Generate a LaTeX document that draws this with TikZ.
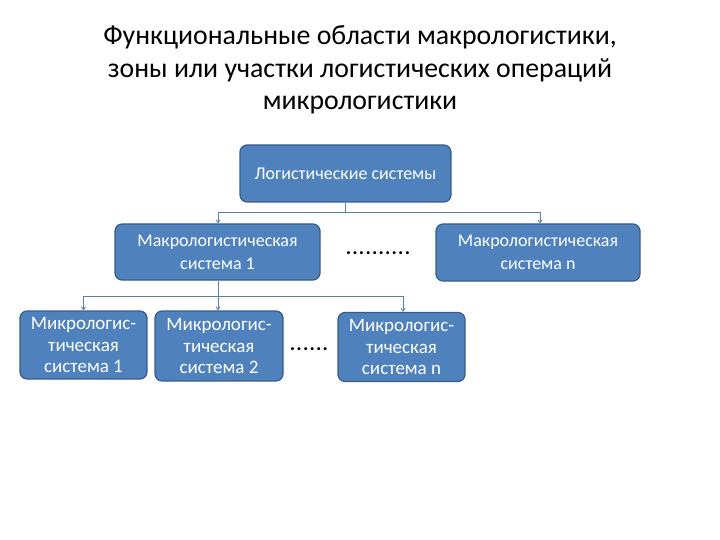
\documentclass[tikz,border=0pt]{standalone}
\usepackage{fontspec}
\setmainfont{Carlito}
\usetikzlibrary{arrows.meta}
\definecolor{boxfill}{HTML}{4F81BD}
\definecolor{boxline}{HTML}{385D8A}
\definecolor{conn}{HTML}{5A7FA8}
\tikzset{
  x=1pt,y=-1pt,
  sysbox/.style={draw=boxline,line width=1.2pt,fill=boxfill,rounded corners=7pt,
    text=white,align=center,inner sep=0pt,font=\fontsize{18}{23}\selectfont},
  microbox/.style={sysbox,font=\fontsize{19}{21.5}\selectfont},
  conline/.style={draw=conn,line width=0.8pt},
  conarrow/.style={conline,-{Straight Barb[length=3pt,width=4pt]}},
  dots/.style={font=\fontsize{20}{22}\selectfont\bfseries\addfontfeature{LetterSpace=6},inner sep=0pt}
}
\begin{document}
\begin{tikzpicture}
\useasboundingbox (0,0) rectangle (720,540);
\node[align=center,font=\fontsize{27.8}{32.5}\selectfont,inner sep=0pt] (title) at (360,70)
  {Функциональные области макрологистики,\\зоны или участки логистических операций\\микрологистики};
\node[sysbox,minimum width=211pt,minimum height=57pt] (top) at (345.5,173.5) {Логистические системы};
\node[sysbox,minimum width=205pt,minimum height=56pt] (m1) at (217.5,252) {Макрологистическая\\система 1};
\node[sysbox,minimum width=204pt,minimum height=57pt] (mn) at (538,252.5) {Макрологистическая\\система n};
\node[dots] (d1) at (378,253) {..........};
\node[microbox,minimum width=127pt,minimum height=68pt] (u1) at (83.5,345) {Микрологис-\\тическая\\система 1};
\node[microbox,minimum width=128pt,minimum height=70pt] (u2) at (219,346) {Микрологис-\\тическая\\система 2};
\node[microbox,minimum width=127pt,minimum height=69pt] (un) at (401.5,347) {Микрологис-\\тическая\\система n};
\node[dots] (d2) at (309,349) {......};
\coordinate (j1) at (345.5,212);
\coordinate (j1l) at (218,212);
\coordinate (j1r) at (540,212);
\draw[conline] (top.south) -- (j1);
\draw[conline] (j1l) -- (j1r);
\draw[conarrow] (j1l) -- (j1l |- m1.north);
\draw[conarrow] (j1r) -- (j1r |- mn.north);
\coordinate (j2) at (218,296);
\coordinate (j2l) at (83.5,296);
\coordinate (j2r) at (403,296);
\draw[conline] (m1.south -| j2) -- (j2);
\draw[conline] (j2l) -- (j2r);
\draw[conarrow] (j2l) -- (j2l |- u1.north);
\draw[conarrow] (j2) -- (j2 |- u2.north);
\draw[conarrow] (j2r) -- (j2r |- un.north);
\end{tikzpicture}
\end{document}
